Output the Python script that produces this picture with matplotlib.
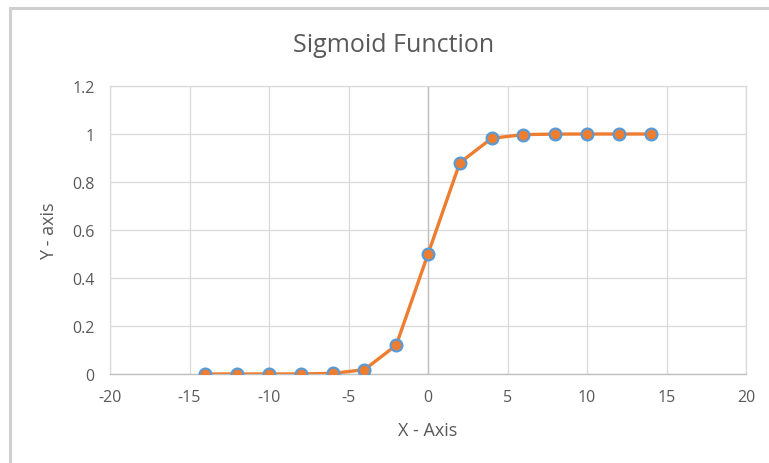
import matplotlib.pyplot as plt
from matplotlib.lines import Line2D

x_vals = [-14, -12, -10, -8, -6, -4, -2, 0, 2, 4, 6, 8, 10, 12, 14]
y_vals = [0.0, 0.0, 0.0, 0.0003, 0.0025, 0.018, 0.12, 0.5, 0.88, 0.982, 0.9975, 0.9997, 1.0, 1.0, 1.0]
x_ticks = [-20, -15, -10, -5, 0, 5, 10, 15, 20]
y_ticks = [0, 0.2, 0.4, 0.6, 0.8, 1.0, 1.2]
y_tick_labels = ["0", "0.2", "0.4", "0.6", "0.8", "1", "1.2"]

text_col = "#595959"
grid_col = "#d9d9d9"
plt.rcParams["font.family"] = ["Open Sans", "DejaVu Sans"]

fig = plt.figure(figsize=(7.69, 4.64), dpi=100)
ax = fig.add_axes([110 / 769, 89 / 464, 636 / 769, 288 / 464])

ax.plot(x_vals, y_vals, color="#ED7D31", lw=2.4, marker="o", markersize=8.5,
        markerfacecolor="#ED7D31", markeredgecolor="#5B9BD5", markeredgewidth=1.6,
        zorder=3)

ax.set_xlim(-20, 20)
ax.set_ylim(0, 1.2)
ax.set_xticks(x_ticks)
ax.set_xticklabels([str(t) for t in x_ticks])
ax.set_yticks(y_ticks)
ax.set_yticklabels(y_tick_labels)
ax.tick_params(length=0, colors=text_col, labelsize=11.5)
ax.tick_params(axis="x", pad=11)
ax.tick_params(axis="y", pad=11)

ax.grid(True, color=grid_col, lw=0.9)
ax.set_axisbelow(True)
for side in ["top", "right", "left"]:
    ax.spines[side].set_color(grid_col)
    ax.spines[side].set_linewidth(0.9)
ax.spines["bottom"].set_color("#bfbfbf")
ax.spines["bottom"].set_linewidth(1.0)
ax.axvline(0, color="#bfbfbf", lw=1.0, zorder=1)

ax.set_xlabel("X - Axis", color=text_col, fontsize=13, labelpad=11)
ax.set_ylabel("Y - axis", color=text_col, fontsize=13, labelpad=10)
fig.text(394 / 769, 1 - 45 / 464, "Sigmoid Function", color=text_col,
         fontsize=18, ha="center", va="center")

# light frame along the top and left edges
fig.add_artist(Line2D([9.5 / 769, 1], [1 - 8.5 / 464, 1 - 8.5 / 464],
                      transform=fig.transFigure, color="#cfcfcf", lw=2.2))
fig.add_artist(Line2D([9.5 / 769, 9.5 / 769], [0, 1 - 8.5 / 464],
                      transform=fig.transFigure, color="#cfcfcf", lw=2.2))

fig.savefig("out.png", dpi=100)
